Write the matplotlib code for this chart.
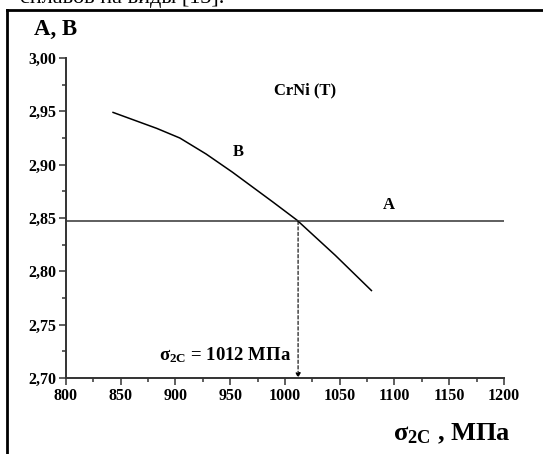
import numpy as np
import matplotlib
matplotlib.use("Agg")
import matplotlib.pyplot as plt
from matplotlib.ticker import MultipleLocator, FuncFormatter
from matplotlib.lines import Line2D

# curve B
b_x = [843, 883, 904, 928, 952, 989, 1011, 1046, 1079]
b_y = [2.949, 2.934, 2.925, 2.910, 2.893, 2.865, 2.848, 2.815, 2.782]
# line A
a_x = [800, 1200]
a_y = [2.847, 2.847]
cross_x = 1012

plt.rcParams["font.family"] = ["Liberation Serif", "DejaVu Serif"]
plt.rcParams["font.weight"] = "bold"
plt.rcParams["mathtext.fontset"] = "custom"
plt.rcParams["mathtext.rm"] = "Liberation Serif:bold"
plt.rcParams["mathtext.it"] = "Liberation Serif:bold"
plt.rcParams["mathtext.bf"] = "Liberation Serif:bold"

fig = plt.figure(figsize=(5.43, 4.54), dpi=100)
ax = fig.add_axes([0.1215, 0.1674, 0.8065, 0.7048])

ax.plot(b_x, b_y, color="black", lw=1.1)
ax.plot(a_x, a_y, color="#333333", lw=1.1)
ax.annotate("", xy=(cross_x, 2.70), xytext=(cross_x, 2.847),
            arrowprops=dict(arrowstyle="-|>", ls=(0, (3, 2)), lw=0.8,
                            color="black", mutation_scale=7, shrinkA=0, shrinkB=0))

ax.set_xlim(800, 1200)
ax.set_ylim(2.70, 3.00)
ax.xaxis.set_major_locator(MultipleLocator(50))
ax.xaxis.set_minor_locator(MultipleLocator(25))
ax.yaxis.set_major_locator(MultipleLocator(0.05))
ax.yaxis.set_minor_locator(MultipleLocator(0.025))
ax.yaxis.set_major_formatter(FuncFormatter(lambda v, p: f"{v:.2f}".replace(".", ",")))
ax.tick_params(which="major", direction="out", length=5, width=1.1, labelsize=11.5,
               color="#333333", pad=2)
ax.tick_params(which="minor", direction="out", length=3, width=1.1, color="#333333")
for s in ["top", "right"]:
    ax.spines[s].set_visible(False)
for s in ["left", "bottom"]:
    ax.spines[s].set_linewidth(1.4)
    ax.spines[s].set_color("#333333")
for lab in ax.get_xticklabels() + ax.get_yticklabels():
    lab.set_fontweight("bold")

ax.text(0.545, 0.90, "CrNi (T)", transform=ax.transAxes, fontsize=12, ha="center", va="center")
ax.text(957, 2.912, "B", fontsize=12, ha="center", va="center")
ax.text(1095, 2.862, "A", fontsize=12, ha="center", va="center")
ax.text(1006, 2.712, r"$\sigma_{2C}$ = 1012 МПа", fontsize=13.5, ha="right", va="bottom")

fig.text(0.103, 0.934, "A, B", fontsize=16.5, fontweight="bold", ha="center", va="center")
fig.text(0.94, 0.045, r"$\sigma_{2C}$ , МПа", fontsize=19, fontweight="bold", ha="right", va="center")
fig.text(0.037, 0.993, "сплавов на виды [13].", fontsize=16, fontweight="normal",
         ha="left", va="baseline")

# page frame
fig.add_artist(Line2D([0.012, 0.012], [0, 0.978], transform=fig.transFigure, color="black", lw=2))
fig.add_artist(Line2D([0.012, 1.0], [0.978, 0.978], transform=fig.transFigure, color="black", lw=2))

fig.savefig("out.png", dpi=100)
